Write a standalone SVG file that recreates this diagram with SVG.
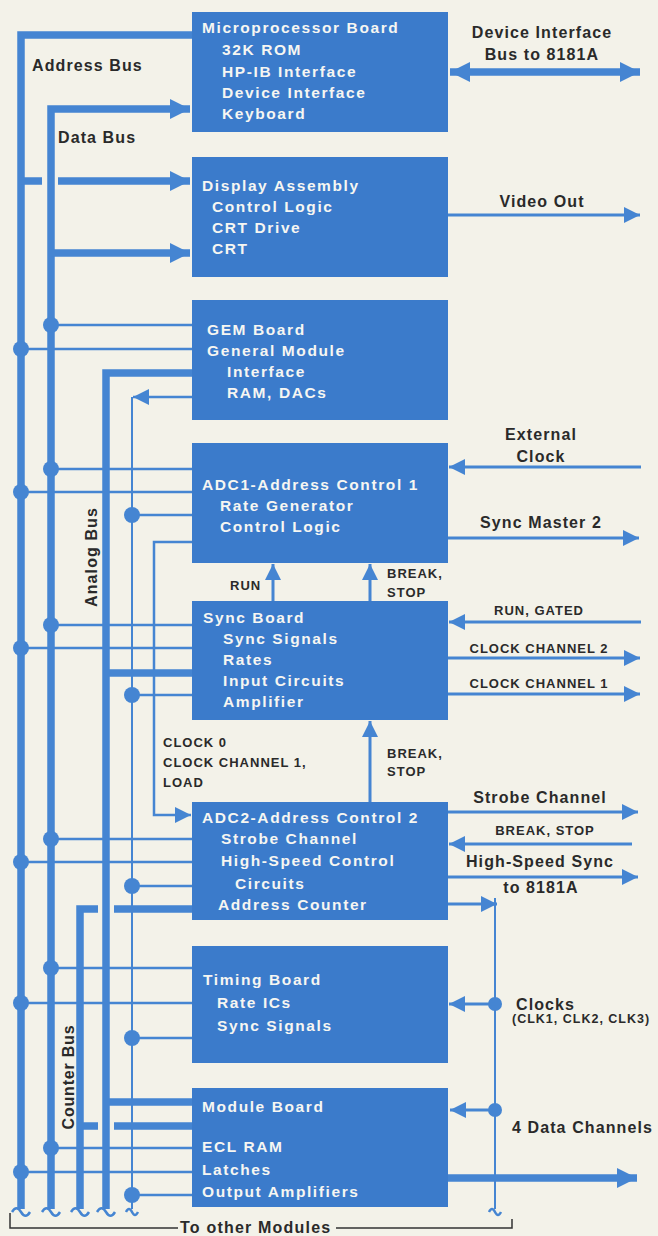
<svg xmlns="http://www.w3.org/2000/svg" width="658" height="1236" viewBox="0 0 658 1236">
<style>
.blk{fill:#3b7bcb}
.bt{fill:#f6f6f2;font-family:"Liberation Sans",Arial,sans-serif;font-weight:bold;font-size:15.5px;letter-spacing:1.6px}
.lb{fill:#2a2a2a;font-family:"Liberation Sans",Arial,sans-serif;font-weight:bold;font-size:16px;letter-spacing:1.1px}
.sm{fill:#2a2a2a;font-family:"Liberation Sans",Arial,sans-serif;font-weight:bold;font-size:13px;letter-spacing:1px}
.bus{fill:none;stroke:#4585d2;stroke-width:7.5;stroke-linejoin:miter;stroke-linecap:butt}
.thin{fill:none;stroke:#4585d2;stroke-width:2.5}
.sig{fill:none;stroke:#4585d2;stroke-width:3}
.hair{fill:none;stroke:#4585d2;stroke-width:2}
.dot{fill:#4585d2}
.tl{fill:none;stroke:#4585d2;stroke-width:2.5}
.brk{fill:none;stroke:#333;stroke-width:1.5}
</style>
<defs>
<marker id="ah" viewBox="0 0 16 16" refX="16" refY="8" markerWidth="16" markerHeight="16" markerUnits="userSpaceOnUse" orient="auto-start-reverse"><path d="M0,0 L16,8 L0,16 Z" fill="#4585d2"/></marker>
<marker id="ahb" viewBox="0 0 20 20" refX="20" refY="10" markerWidth="20" markerHeight="20" markerUnits="userSpaceOnUse" orient="auto-start-reverse"><path d="M0,0 L20,10 L0,20 Z" fill="#4585d2"/></marker>
</defs>
<rect width="658" height="1236" fill="#f3f2e9"/>
<g id="connectors">
<!-- thin branch lines -->
<path class="thin" d="M51,325H192M21,349H192M51,469H192M21,492H192M132,515H192M51,625H192M21,648H192M132,695H192M51,839H192M21,862H192M132,886H192M51,968H192M21,1003H192M132,1038H192M51,1148H192M21,1172H192M132,1195H192"/>
<path class="thin" d="M192,397H133" marker-end="url(#ah)"/>
<path class="hair" d="M132,397V1209"/>
<path class="thin" d="M192,542H154V815H191" marker-end="url(#ah)"/>
<!-- buses -->
<path class="bus" d="M21,1209V35H192"/>
<path class="bus" d="M51,1209V109H190" marker-end="url(#ahb)"/>
<path class="bus" d="M21,181H42"/>
<path class="bus" d="M58,181H190" marker-end="url(#ahb)"/>
<path class="bus" d="M51,253H190" marker-end="url(#ahb)"/>
<path class="bus" d="M106,1209V373H192"/>
<path class="bus" d="M106,673H192M106,1102H192"/>
<path class="bus" d="M80,1209V909H98M114,909H192"/>
<path class="bus" d="M80,1126H98M114,1126H192"/>
<!-- dots -->
<g class="dot">
<circle cx="51" cy="325" r="8"/><circle cx="21" cy="349" r="8"/>
<circle cx="51" cy="469" r="8"/><circle cx="21" cy="492" r="8"/><circle cx="132" cy="515" r="8"/>
<circle cx="51" cy="625" r="8"/><circle cx="21" cy="648" r="8"/><circle cx="132" cy="695" r="8"/>
<circle cx="51" cy="839" r="8"/><circle cx="21" cy="862" r="8"/><circle cx="132" cy="886" r="8"/>
<circle cx="51" cy="968" r="8"/><circle cx="21" cy="1003" r="8"/><circle cx="132" cy="1038" r="8"/>
<circle cx="51" cy="1148" r="8"/><circle cx="21" cy="1172" r="8"/><circle cx="132" cy="1195" r="8"/>
<circle cx="495" cy="1004" r="7"/><circle cx="495" cy="1110" r="7"/>
</g>
<!-- bus break marks -->
<path class="tl" d="M12,1212c3,-5 6,-5 9,0c3,5 6,5 9,0M42,1212c3,-5 6,-5 9,0c3,5 6,5 9,0M71,1212c3,-5 6,-5 9,0c3,5 6,5 9,0M97,1212c3,-5 6,-5 9,0c3,5 6,5 9,0M126,1212c2,-4 4,-4 6,0c2,4 4,4 6,0M489,1212c2,-4 4,-4 6,0c2,4 4,4 6,0"/>
<!-- vertical arrows between boards -->
<path class="sig" d="M273,601V564" marker-end="url(#ah)"/>
<path class="sig" d="M370,601V564" marker-end="url(#ah)"/>
<path class="sig" d="M370,802V721" marker-end="url(#ah)"/>
<!-- right side -->
<path class="bus" d="M450,72H640" marker-start="url(#ahb)" marker-end="url(#ahb)"/>
<path class="sig" d="M448,215H640" marker-end="url(#ah)"/>
<path class="sig" d="M641,467H449" marker-end="url(#ah)"/>
<path class="sig" d="M448,538H639" marker-end="url(#ah)"/>
<path class="sig" d="M641,622H449" marker-end="url(#ah)"/>
<path class="sig" d="M448,658H640" marker-end="url(#ah)"/>
<path class="sig" d="M448,694H640" marker-end="url(#ah)"/>
<path class="sig" d="M448,812H638" marker-end="url(#ah)"/>
<path class="sig" d="M632,844H449" marker-end="url(#ah)"/>
<path class="sig" d="M448,877H638" marker-end="url(#ah)"/>
<path class="sig" d="M448,904H497" marker-end="url(#ah)"/>
<path class="hair" d="M495,898V1209"/>
<path class="sig" d="M495,1004H449" marker-end="url(#ah)"/>
<path class="sig" d="M495,1110H450" marker-end="url(#ah)"/>
<path class="bus" d="M448,1178H637" marker-end="url(#ahb)"/>
<!-- bracket -->
<path class="brk" d="M10,1213V1228H178M336,1228H512V1219"/>
</g>
<g id="microprocessor">
<rect class="blk" x="192" y="12" width="256" height="120"/>
<text class="bt" x="202" y="33">Microprocessor Board</text>
<text class="bt" x="222" y="55">32K ROM</text>
<text class="bt" x="222" y="77">HP-IB Interface</text>
<text class="bt" x="222" y="98">Device Interface</text>
<text class="bt" x="222" y="119">Keyboard</text>
</g>
<g id="display">
<rect class="blk" x="192" y="157" width="256" height="120"/>
<text class="bt" x="202" y="191">Display Assembly</text>
<text class="bt" x="212" y="212">Control Logic</text>
<text class="bt" x="212" y="233">CRT Drive</text>
<text class="bt" x="212" y="254">CRT</text>
</g>
<g id="gem">
<rect class="blk" x="192" y="300" width="256" height="120"/>
<text class="bt" x="207" y="335">GEM Board</text>
<text class="bt" x="207" y="356">General Module</text>
<text class="bt" x="227" y="377">Interface</text>
<text class="bt" x="227" y="398">RAM, DACs</text>
</g>
<g id="adc1">
<rect class="blk" x="192" y="443" width="256" height="120"/>
<text class="bt" x="202" y="490">ADC1-Address Control 1</text>
<text class="bt" x="220" y="511">Rate Generator</text>
<text class="bt" x="220" y="532">Control Logic</text>
</g>
<g id="sync">
<rect class="blk" x="192" y="601" width="256" height="119"/>
<text class="bt" x="203" y="623">Sync Board</text>
<text class="bt" x="223" y="644">Sync Signals</text>
<text class="bt" x="223" y="665">Rates</text>
<text class="bt" x="223" y="686">Input Circuits</text>
<text class="bt" x="223" y="707">Amplifier</text>
</g>
<g id="adc2">
<rect class="blk" x="192" y="802" width="256" height="118"/>
<text class="bt" x="202" y="823">ADC2-Address Control 2</text>
<text class="bt" x="221" y="844">Strobe Channel</text>
<text class="bt" x="221" y="866">High-Speed Control</text>
<text class="bt" x="235" y="889">Circuits</text>
<text class="bt" x="218" y="910">Address Counter</text>
</g>
<g id="timing">
<rect class="blk" x="192" y="946" width="256" height="117"/>
<text class="bt" x="203" y="985">Timing Board</text>
<text class="bt" x="217" y="1008">Rate ICs</text>
<text class="bt" x="217" y="1031">Sync Signals</text>
</g>
<g id="module">
<rect class="blk" x="192" y="1088" width="256" height="119"/>
<text class="bt" x="202" y="1112">Module Board</text>
<text class="bt" x="202" y="1152">ECL RAM</text>
<text class="bt" x="202" y="1175">Latches</text>
<text class="bt" x="202" y="1197">Output Amplifiers</text>
</g>
<g id="labels">
<text class="lb" x="32" y="71">Address Bus</text>
<text class="lb" x="58" y="143">Data Bus</text>
<text class="lb" transform="translate(97,557) rotate(-90)" text-anchor="middle">Analog Bus</text>
<text class="lb" transform="translate(74,1077) rotate(-90)" text-anchor="middle" style="letter-spacing:0.8px">Counter Bus</text>
<text class="lb" x="542" y="38" text-anchor="middle">Device Interface</text>
<text class="lb" x="542" y="60" text-anchor="middle">Bus to 8181A</text>
<text class="lb" x="542" y="207" text-anchor="middle">Video Out</text>
<text class="lb" x="541" y="440" text-anchor="middle">External</text>
<text class="lb" x="541" y="462" text-anchor="middle">Clock</text>
<text class="lb" x="541" y="528" text-anchor="middle">Sync Master 2</text>
<text class="sm" x="539" y="615" text-anchor="middle">RUN, GATED</text>
<text class="sm" x="539" y="653" text-anchor="middle">CLOCK CHANNEL 2</text>
<text class="sm" x="539" y="688" text-anchor="middle">CLOCK CHANNEL 1</text>
<text class="sm" x="230" y="590">RUN</text>
<text class="sm" x="387" y="578">BREAK,</text>
<text class="sm" x="387" y="597">STOP</text>
<text class="sm" x="387" y="758">BREAK,</text>
<text class="sm" x="387" y="776">STOP</text>
<text class="sm" x="163" y="747">CLOCK 0</text>
<text class="sm" x="163" y="767">CLOCK CHANNEL 1,</text>
<text class="sm" x="163" y="787">LOAD</text>
<text class="lb" x="540" y="803" text-anchor="middle">Strobe Channel</text>
<text class="sm" x="545" y="835" text-anchor="middle">BREAK, STOP</text>
<text class="lb" x="540" y="867" text-anchor="middle">High-Speed Sync</text>
<text class="lb" x="541" y="893" text-anchor="middle">to 8181A</text>
<text class="lb" x="516" y="1010">Clocks</text>
<text class="sm" x="512" y="1023" style="font-size:12.5px">(CLK1, CLK2, CLK3)</text>
<text class="lb" x="512" y="1133">4 Data Channels</text>
<text class="lb" x="180" y="1233" style="letter-spacing:1.2px">To other Modules</text>
</g>
</svg>
